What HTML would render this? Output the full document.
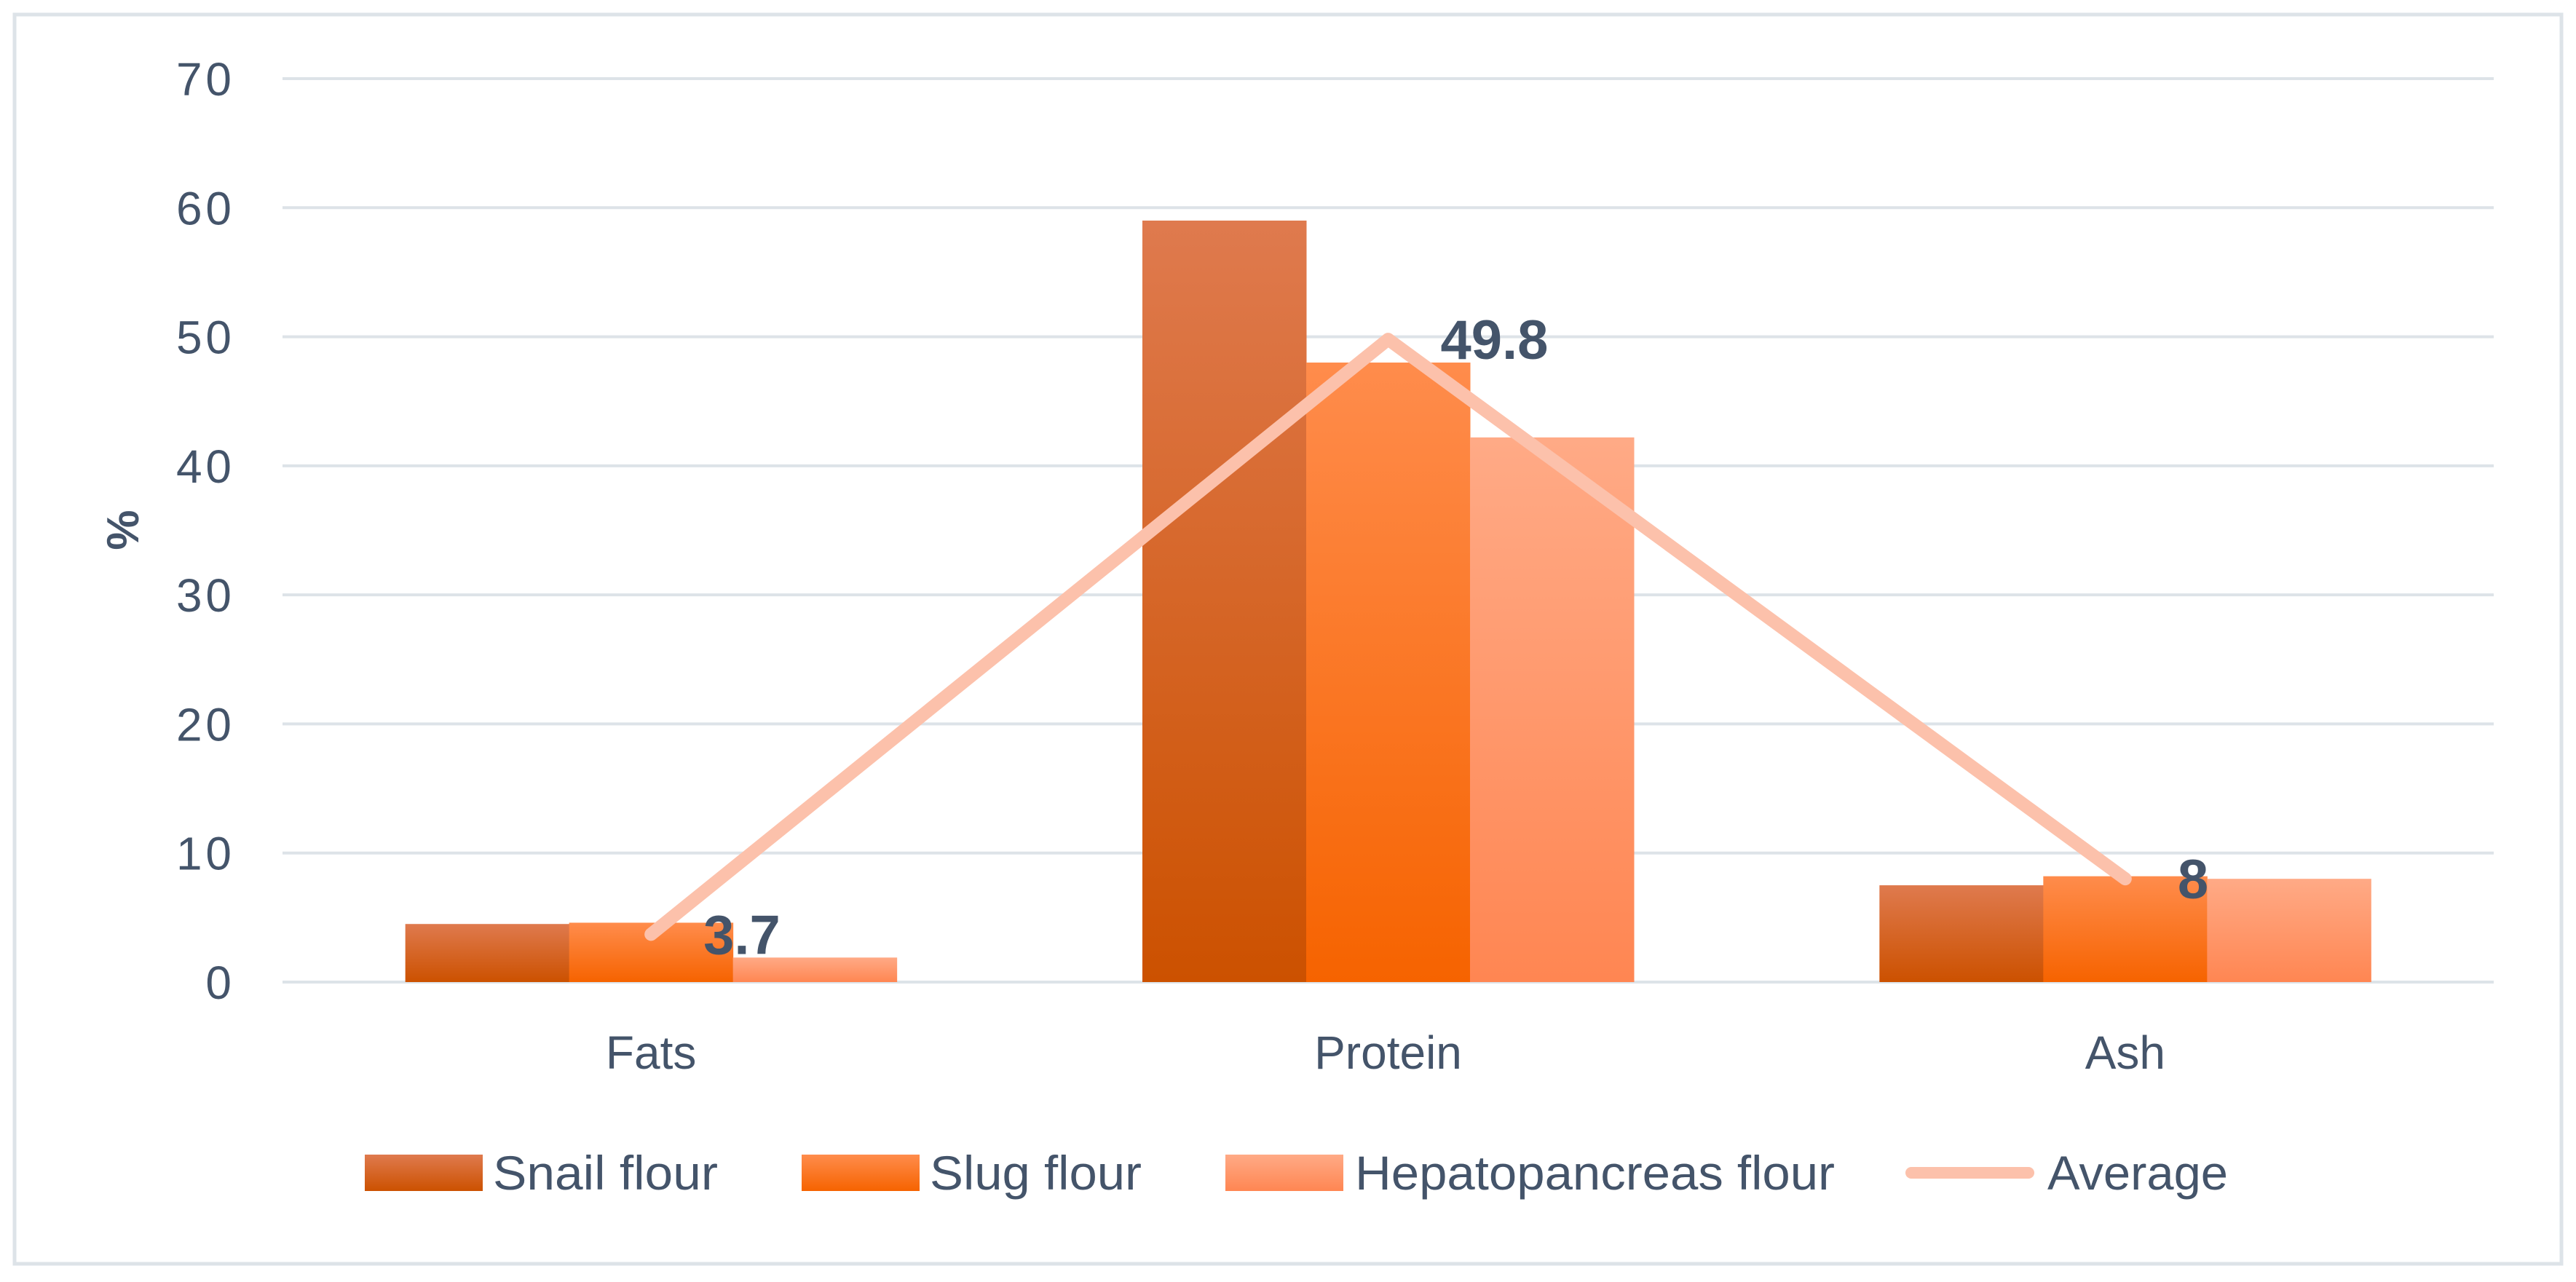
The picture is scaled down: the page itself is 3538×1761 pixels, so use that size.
<!DOCTYPE html>
<html><head><meta charset="utf-8"><style>
html,body{margin:0;padding:0;background:#fff;}
svg text{font-family:"Liberation Sans","DejaVu Sans",sans-serif;fill:#44546a;}
</style></head><body>
<svg id="chart" width="3538" height="1756" viewBox="0 0 3538 1756" xmlns="http://www.w3.org/2000/svg">
<defs>
<linearGradient id="g0" x1="0" y1="0" x2="0" y2="1"><stop offset="0" stop-color="#df7a4e"/><stop offset="1" stop-color="#cc5100"/></linearGradient>
<linearGradient id="g1" x1="0" y1="0" x2="0" y2="1"><stop offset="0" stop-color="#ff8c4c"/><stop offset="1" stop-color="#f66300"/></linearGradient>
<linearGradient id="g2" x1="0" y1="0" x2="0" y2="1"><stop offset="0" stop-color="#ffaa86"/><stop offset="1" stop-color="#ff8652"/></linearGradient>
</defs>
<rect x="20" y="20" width="3498" height="1716" fill="#fff" stroke="#dde3e8" stroke-width="5"/>
<g id="grid"></g>
<g id="bars"></g>
<g id="line"></g>
<g id="labels"></g>
<text transform="translate(190,728) rotate(-90)" text-anchor="middle" font-size="62" font-weight="bold">%</text>
<g id="legend"></g>
</svg>
<script>
const categories = ["Fats", "Protein", "Ash"];
const snail = [4.5, 59, 7.5];
const slug = [4.6, 48, 8.2];
const hepato = [1.9, 42.2, 8.0];
const average = [3.7, 49.8, 8];
const avgLabels = ["3.7", "49.8", "8"];
const yTicks = [0, 10, 20, 30, 40, 50, 60, 70];
const seriesNames = ["Snail flour", "Slug flour", "Hepatopancreas flour"];

const NS = "http://www.w3.org/2000/svg";
const X0 = 388, X1 = 3425, Y0 = 1349, Y70 = 108;
const yMax = 70;
function y(v){ return Y0 - (v / yMax) * (Y0 - Y70); }
const catW = (X1 - X0) / categories.length;
function cx(i){ return X0 + catW * (i + 0.5); }
const barW = 225;
function mk(tag, attrs, parent){ const e = document.createElementNS(NS, tag); for (const k in attrs) e.setAttribute(k, attrs[k]); parent.appendChild(e); return e; }

const grid = document.getElementById("grid");
yTicks.forEach(t => {
  const l = mk("line", {x1: X0, x2: X1, y1: y(t), y2: y(t), stroke: "#dde3e8", "stroke-width": 4}, grid);
  
  
  const tx = mk("text", {x: 318, y: y(t) + 23, "text-anchor": "end", "font-size": 64, "textLength": String(t).length > 1 ? 76 : 38}, grid);
  tx.textContent = t;
  
  
});

const bars = document.getElementById("bars");
const series = [snail, slug, hepato];
series.forEach((s, si) => {
  s.forEach((v, i) => {
    const x = cx(i) - 1.5 * barW + si * barW;
    const r = mk("rect", {x: x, y: y(v), width: barW + 0.5, height: Y0 - y(v), fill: "url(#g" + si + ")"}, bars);
    
    
  });
});
categories.forEach((c, i) => {
  const t = mk("text", {x: cx(i), y: 1468, "text-anchor": "middle", "font-size": 64}, bars);
  t.textContent = c;
  
  
});

const lineG = document.getElementById("line");
const pts = average.map((v, i) => cx(i) + "," + y(v)).join(" ");
const pl = mk("polyline", {points: pts, fill: "none", stroke: "#fcc1ab", "stroke-width": 18, "stroke-linecap": "round", "stroke-linejoin": "round"}, lineG);



const labG = document.getElementById("labels");
average.forEach((v, i) => {
  const t = mk("text", {x: cx(i) + 72, y: y(v) + 27, "font-size": 76, "font-weight": "bold"}, labG);
  t.textContent = avgLabels[i];
  
  
});

const leg = document.getElementById("legend");
const legX = [501, 1101, 1683];
const textX = [677, 1277, 1861];
const textW = [309, 291, 659];
seriesNames.forEach((n, i) => {
  const r = mk("rect", {x: legX[i], y: 1586, width: 162, height: 50, fill: "url(#g" + i + ")"}, leg);
  
  
  const t = mk("text", {x: textX[i], y: 1634, "font-size": 66, textLength: textW[i], lengthAdjust: "spacingAndGlyphs"}, leg);
  t.textContent = n;
  
  
});
const ll = mk("line", {x1: 2625, x2: 2786, y1: 1611, y2: 1611, stroke: "#fcc1ab", "stroke-width": 16, "stroke-linecap": "round"}, leg);


const lt = mk("text", {x: 2812, y: 1634, "font-size": 66, textLength: 248, lengthAdjust: "spacingAndGlyphs"}, leg);
lt.textContent = "Average";


</script>
</body></html>
